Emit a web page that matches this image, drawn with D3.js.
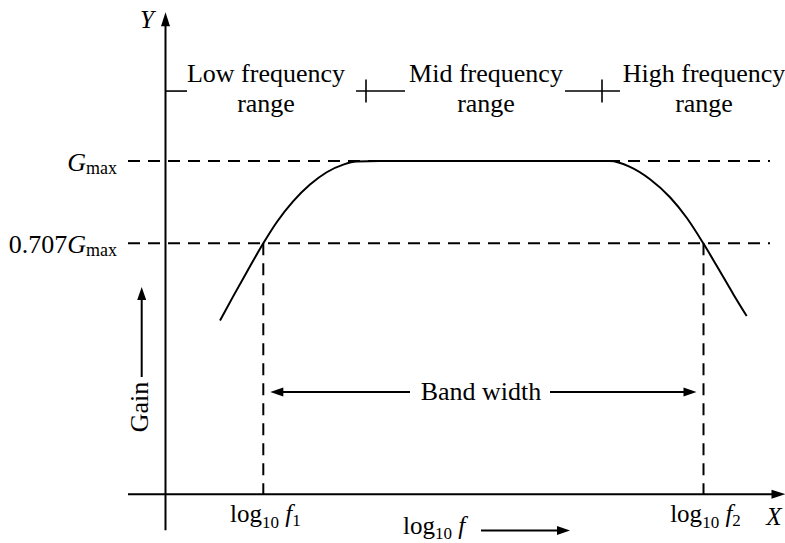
<!DOCTYPE html>
<html>
<head>
<meta charset="utf-8">
<script src="https://cdn.jsdelivr.net/npm/d3@7"></script>
<style>
  body { margin: 0; background: #fff; }
</style>
</head>
<body>
<div id="chart"></div>
<script>
// frequency response, schematic (x = log10 f in arbitrary units, y = gain / Gmax)
const logF = [0.545, 0.678, 0.812, 0.978, 1.112, 1.278, 1.445, 1.612, 1.778, 1.912, 2.145,
              4.445, 4.645, 4.845, 5.045, 5.212, 5.378, 5.512, 5.678, 5.812];
const gain = [0.432, 0.519, 0.604, 0.707, 0.782, 0.857, 0.916, 0.960, 0.987, 0.998, 1.0,
              1.0, 0.979, 0.935, 0.871, 0.798, 0.707, 0.627, 0.526, 0.448];

const cutoffs = [0.978, 5.38];          // log10 f1, log10 f2
const gainLevels = [1, 0.707];          // Gmax, 0.707 Gmax
const levelLabels = [["", "G", "max"], ["0.707", "G", "max"]];
const cutoffLabels = ["1", "2"];

const rangeNames = [["Low frequency", "range"], ["Mid frequency", "range"], ["High frequency", "range"]];
const rangeCenters = [266, 486, 704];
// segments of the range marker line, and where the cross ticks sit
const rangeSegments = [[0, 0.215], [1.905, 2.395], [3.995, 4.545]];
const rangeTicks = [2.005, 4.365];

const width = 785, height = 543;
const serif = "'Liberation Serif', 'Times New Roman', Times, serif";

const x = d3.scaleLinear().domain([0, 6.2]).range([165.5, 785.5]);
const y = d3.scaleLinear().domain([0.707, 1]).range([243.3, 161]);

const axisGain = -0.186;   // where the X axis crosses
const svg = d3.select("#chart")
    .append("svg")
    .attr("width", width)
    .attr("height", height)
    .attr("font-family", serif);

// arrowhead helper (filled triangle, tip at x2,y2)
function arrow(x1, y1, x2, y2, len = 13, half = 4.5) {
    const d = Math.hypot(x2 - x1, y2 - y1);
    svg.append("line")
        .attr("x1", x1).attr("y1", y1)
        .attr("x2", x2 - (x2 - x1) / d * (len - 2))
        .attr("y2", y2 - (y2 - y1) / d * (len - 2))
        .style("stroke", "black")
        .style("stroke-width", 2);
    const a = Math.atan2(y2 - y1, x2 - x1);
    const bx = x2 - len * Math.cos(a), by = y2 - len * Math.sin(a);
    const px = -Math.sin(a) * half, py = Math.cos(a) * half;
    svg.append("path")
        .attr("d", `M${x2},${y2}L${bx + px},${by + py}L${bx - px},${by - py}Z`)
        .attr("fill", "black");
}

function label(xp, yp, size, anchor) {
    return svg.append("text")
        .attr("x", xp).attr("y", yp)
        .attr("text-anchor", anchor)
        .attr("font-family", serif)
        .style("font-size", size + "px");
}

// axes
arrow(x(-0.375), y(axisGain), x(6.2), y(axisGain), 14, 4.5);
arrow(x(0), y(-0.315), x(0), y(1.53), 14, 4.5);

label(147, 28, 25, "middle").style("font-style", "italic").text("Y");
label(774, 525, 25, "middle").style("font-style", "italic").text("X");

// dashed gain levels
svg.selectAll(".level")
    .data(gainLevels)
    .join("line")
    .attr("class", "level")
    .attr("x1", x(-0.375))
    .attr("x2", x(6.045))
    .attr("y1", d => y(d))
    .attr("y2", d => y(d))
    .style("stroke", "black")
    .style("stroke-width", 2)
    .style("stroke-dasharray", "12,8");

gainLevels.forEach((g, i) => {
    const t = label(117, y(g) + 10, 26, "end");
    if (levelLabels[i][0]) t.append("tspan").text(levelLabels[i][0]);
    t.append("tspan").style("font-style", "italic").text(levelLabels[i][1]);
    t.append("tspan").attr("dy", 3).style("font-size", "18px").text(levelLabels[i][2]);
});

// dashed cutoff verticals
svg.selectAll(".cutoff")
    .data(cutoffs)
    .join("line")
    .attr("class", "cutoff")
    .attr("x1", d => x(d))
    .attr("x2", d => x(d))
    .attr("y1", y(0.707))
    .attr("y2", y(axisGain))
    .style("stroke", "black")
    .style("stroke-width", 2)
    .style("stroke-dasharray", "12,8");

cutoffs.forEach((c, i) => {
    const t = label(x(c) + 2, 522, 25, "middle");
    t.append("tspan").text("log");
    t.append("tspan").attr("dy", 6).style("font-size", "17px").text("10");
    t.append("tspan").attr("dy", -6).style("font-style", "italic").text(" f");
    t.append("tspan").attr("dy", 4).style("font-size", "17px").text(cutoffLabels[i]);
});

// response curve
const line = d3.line()
    .x(d => x(d[0]))
    .y(d => y(d[1]))
    .curve(d3.curveMonotoneX);

svg.append("path")
    .datum(logF.map((f, i) => [f, gain[i]]))
    .attr("d", line)
    .attr("fill", "none")
    .style("stroke", "black")
    .style("stroke-width", 2);

// frequency range markers
const markerGain = 1.249;
rangeSegments.forEach(s => {
    svg.append("line")
        .attr("x1", x(s[0])).attr("x2", x(s[1]))
        .attr("y1", y(markerGain)).attr("y2", y(markerGain))
        .style("stroke", "black")
        .style("stroke-width", 1.6);
});
rangeTicks.forEach(t => {
    svg.append("line")
        .attr("x1", x(t)).attr("x2", x(t))
        .attr("y1", y(markerGain) - 11.5).attr("y2", y(markerGain) + 11.5)
        .style("stroke", "black")
        .style("stroke-width", 1.6);
});
rangeNames.forEach((lines, i) => {
    lines.forEach((l, j) => {
        label(rangeCenters[i], 82 + j * 30, 26, "middle").text(l);
    });
});

// band width
arrow(410, 392, x(cutoffs[0]) + 7, 392, 13, 4.5);
arrow(550, 392, x(cutoffs[1]) - 7, 392, 13, 4.5);
label(481, 400, 26, "middle").text("Band width");

// gain label with arrow
arrow(141.7, 377, 141.7, 287, 13, 4.5);
label(0, 0, 26, "middle")
    .attr("transform", "translate(148,407) rotate(-90)")
    .text("Gain");

// log10 f label with arrow
const lf = label(403, 534, 25, "start");
lf.append("tspan").text("log");
lf.append("tspan").attr("dy", 5).style("font-size", "17px").text("10");
lf.append("tspan").attr("dy", -5).style("font-style", "italic").text(" f");
arrow(481, 530.5, 570, 530.5, 13, 4.5);
</script>
</body>
</html>
